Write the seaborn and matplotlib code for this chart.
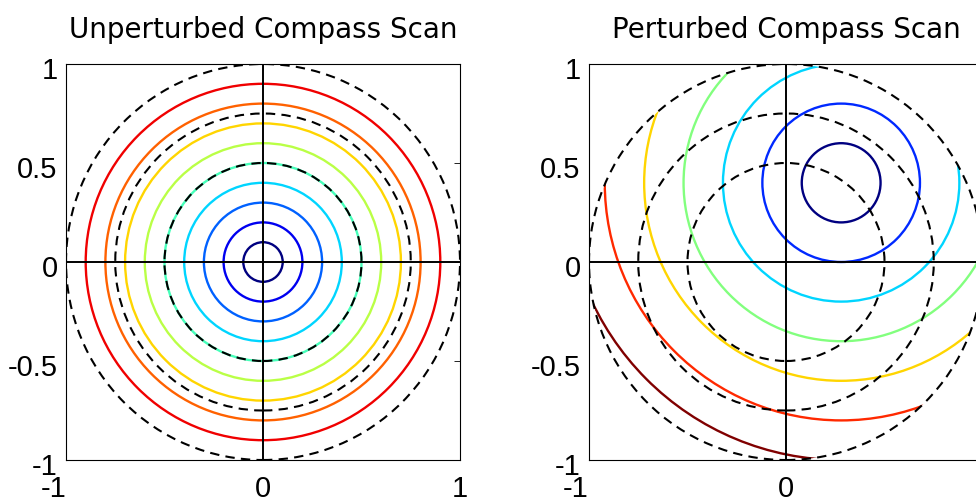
import numpy as np
import matplotlib
matplotlib.use("Agg")
import matplotlib.pyplot as plt
import matplotlib.transforms as mtransforms
from matplotlib.patches import Circle
from matplotlib.colors import Normalize, LinearSegmentedColormap
import seaborn as sns

titles = ["Unperturbed Compass Scan", "Perturbed Compass Scan"]

# contour levels (ring radius) and ring centre for each scan
left_levels = [0.1, 0.2, 0.3, 0.4, 0.5, 0.6, 0.7, 0.8, 0.9]
left_center = (0.0, 0.0)
left_vrange = (0.1, 1.0)

right_levels = [0.2, 0.4, 0.6, 0.8, 1.0, 1.2, 1.4]
right_center = (0.28, 0.40)
right_vrange = (0.2, 1.4)

# dashed reference circles around the origin
ref_radii = [0.5, 0.75, 1.0]

xticks = [-1, 0, 1]
xticklabels = ["-1", "0", "1"]
yticks = [-1, -0.5, 0, 0.5, 1]
yticklabels = ["-1", "-0.5", "0", "0.5", "1"]

sns.set_style("white")
plt.rcParams['font.family'] = ['Liberation Sans', 'DejaVu Sans']
plt.rcParams['text.color'] = 'black'
plt.rcParams['xtick.color'] = 'black'
plt.rcParams['ytick.color'] = 'black'

# MATLAB style jet
jet = LinearSegmentedColormap.from_list("mjet", [
    (0.0, (0, 0, 0.5)), (0.125, (0, 0, 1)), (0.375, (0, 1, 1)),
    (0.625, (1, 1, 0)), (0.875, (1, 0, 0)), (1.0, (0.5, 0, 0))])

W, H = 976, 504
fig = plt.figure(figsize=(W / 100, H / 100), dpi=100)
ax_l = fig.add_axes([66 / W, (H - 460) / H, 394 / W, 396 / H])
ax_r = fig.add_axes([589 / W, (H - 460) / H, 394 / W, 396 / H])


def draw_scan(ax, levels, center, vrange, title):
    norm = Normalize(*vrange)
    disk = Circle((0, 0), 1.0, transform=ax.transData, facecolor="none", edgecolor="none")
    ax.add_patch(disk)
    for lev in levels:
        c = Circle(center, lev, fill=False, edgecolor=jet(norm(lev)), lw=1.7, zorder=2)
        ax.add_patch(c)
        c.set_clip_path(disk)
    for r in ref_radii:
        ax.add_patch(Circle((0, 0), r, fill=False, edgecolor="black", lw=1.5,
                            linestyle=(0, (4.5, 3)), zorder=3))
    ax.axhline(0, color="black", lw=1.4, zorder=4)
    ax.axvline(0, color="black", lw=1.4, zorder=4)

    ax.set_xlim(-1, 1)
    ax.set_ylim(-1, 1)
    ax.set_xticks(xticks)
    ax.set_xticklabels(xticklabels)
    ax.set_yticks(yticks)
    ax.set_yticklabels(yticklabels)
    ax.tick_params(direction="in", length=4, width=0.6, labelsize=21,
                   top=True, right=True)
    ax.tick_params(axis="x", pad=10.5)
    ax.tick_params(axis="y", pad=6)
    ax.get_xticklabels()[0].set_ha("right")
    shift = mtransforms.ScaledTranslation(0, -4 / 100, fig.dpi_scale_trans)
    for lab in ax.get_yticklabels():
        lab.set_transform(lab.get_transform() + shift)
    for s in ax.spines.values():
        s.set_color("black")
        s.set_linewidth(0.8)
    ax.set_title(title, fontsize=20, pad=19, family=['DejaVu Sans'], color="black")


draw_scan(ax_l, left_levels, left_center, left_vrange, titles[0])
draw_scan(ax_r, right_levels, right_center, right_vrange, titles[1])

fig.savefig("out.png", dpi=100)
